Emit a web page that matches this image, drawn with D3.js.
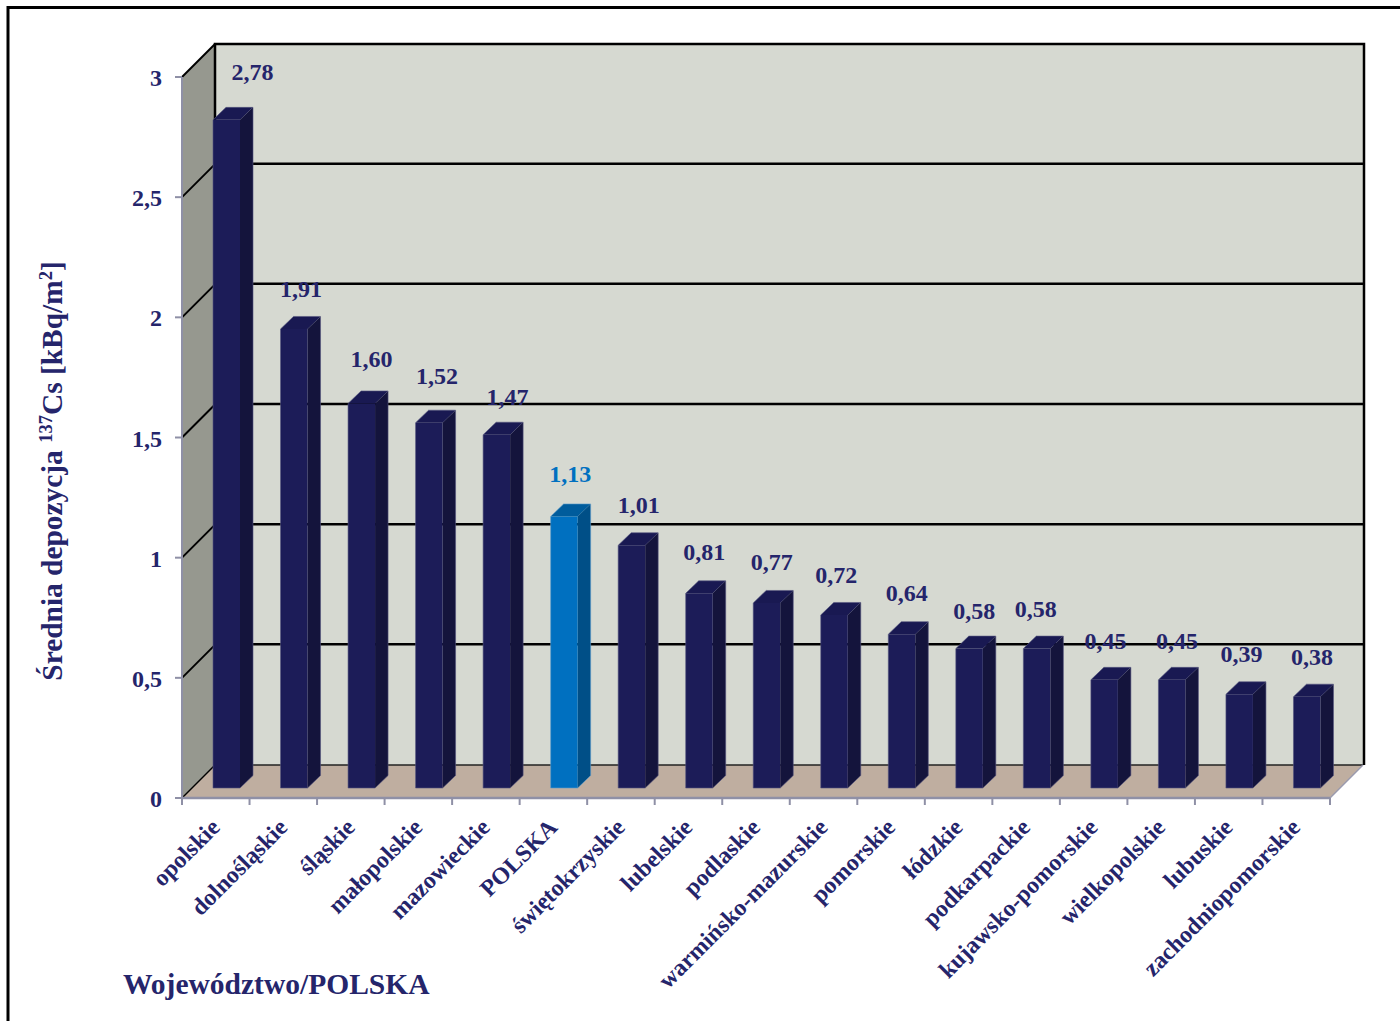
<!DOCTYPE html>
<html><head><meta charset="utf-8">
<script src="https://cdn.jsdelivr.net/npm/d3@7"></script>
<style>html,body{margin:0;padding:0;background:#fff}svg{display:block}text{font-family:"Liberation Serif",serif;font-weight:bold}</style>
</head><body><svg id="c" width="1400" height="1021"></svg>
<script>
const categories=["opolskie","dolnośląskie","śląskie","małopolskie","mazowieckie","POLSKA","świętokrzyskie","lubelskie","podlaskie","warmińsko-mazurskie","pomorskie","łódzkie","podkarpackie","kujawsko-pomorskie","wielkopolskie","lubuskie","zachodniopomorskie"];
const values=[2.78,1.91,1.60,1.52,1.47,1.13,1.01,0.81,0.77,0.72,0.64,0.58,0.58,0.45,0.45,0.39,0.38];
const yTickValues=[0,0.5,1,1.5,2,2.5,3];
const highlight="POLSKA";
// hand-placed label nudges, as in the original
const labelDx=[26,7,10,8,11,6,7,5,5,2,5,5,-1,1,5,2,5];
const labelDy=[-48,-40,-44,-47,-38,-42,-40,-41,-41,-40,-41,-38,-40,-39,-39,-40,-40];

const num=d=>String(d).replace(".",",");
const fix2=d=>d.toFixed(2).replace(".",",");
const svg=d3.select("#c");
const x0=182,x1=1330,y0=798,y3=77,dep=33;
const x=d3.scaleBand().domain(categories).range([x0,x1]);
const y=d3.scaleLinear().domain([0,3]).range([y0,y3]);
const navy="#25256b";
const poly=(pts,fill,stroke,sw)=>svg.append("polygon").attr("points",pts.map(p=>p.join(",")).join(" ")).attr("fill",fill).attr("stroke",stroke||"none").attr("stroke-width",sw||0);

// frame: open on the right, as cropped in the original
svg.append("path").attr("d","M8,1021V7.5H1400").attr("fill","none").attr("stroke","#000").attr("stroke-width",3);

// walls
poly([[x0+dep,y3-dep],[1363,y3-dep],[1363,y0-dep],[x0+dep,y0-dep]],"#d6d9d1");
poly([[x0,y3],[x0+dep,y3-dep],[x0+dep,y0-dep],[x0,y0]],"#96988f");
poly([[x0,y0],[x0+dep,y0-dep],[1363,y0-dep],[x1,y0]],"#bfaea0");

// grid
yTickValues.forEach(v=>{
  const yy=y(v);
  if(v<3&&v>0) svg.append("line").attr("x1",x0+dep).attr("x2",1363).attr("y1",yy-dep-.5).attr("y2",yy-dep-.5).attr("stroke","#000").attr("stroke-width",2.5);
  svg.append("line").attr("x1",x0).attr("x2",x0+dep).attr("y1",yy).attr("y2",yy-dep).attr("stroke","#000").attr("stroke-width",v===0?1.5:2);
});
svg.append("path").attr("d",`M${x0+dep},${y0-dep}V${y3-dep}H1364V${y0-dep}`).attr("fill","none").attr("stroke","#000").attr("stroke-width",2.5);
svg.append("line").attr("x1",x0+dep).attr("x2",1363).attr("y1",y0-dep).attr("y2",y0-dep).attr("stroke","#222").attr("stroke-width",1.5);
svg.append("line").attr("x1",x1).attr("x2",1363).attr("y1",y0).attr("y2",y0-dep).attr("stroke","#9a9aae").attr("stroke-width",1.5);

// axes
const axisCol="#8f90a6";
svg.append("line").attr("x1",x0).attr("x2",x0).attr("y1",y3).attr("y2",y0).attr("stroke",axisCol).attr("stroke-width",2);
svg.append("line").attr("x1",x0).attr("x2",x1).attr("y1",y0).attr("y2",y0).attr("stroke",axisCol).attr("stroke-width",2.5);
yTickValues.forEach(v=>{
  svg.append("line").attr("x1",x0-7).attr("x2",x0).attr("y1",y(v)).attr("y2",y(v)).attr("stroke",axisCol).attr("stroke-width",2);
  svg.append("text").attr("x",162).attr("y",y(v)+9).attr("text-anchor","end").attr("font-size",24).attr("fill",navy).text(num(v));
});
[...categories.map(c=>x(c)),x1].forEach(px=>svg.append("line").attr("x1",px).attr("x2",px).attr("y1",y0).attr("y2",y0+7).attr("stroke",axisCol).attr("stroke-width",2));

// bars
const w=27,dx=13,dy=12.5,lift=10;
categories.forEach((c,i)=>{
  const hi=c===highlight;
  const l=x(c)+31,r=l+w,b=y(0)-lift,t=y(values[i])-lift;
  const e=hi?"#5e9ccc":"#55557f";
  poly([[r,t],[r+dx,t-dy],[r+dx,b-dy],[r,b]],hi?"#004f87":"#14143c");
  poly([[l,t],[l+dx,t-dy],[r+dx,t-dy],[r,t]],hi?"#005c9c":"#191952");
  poly([[l,t],[r,t],[r,b],[l,b]],hi?"#0070c0":"#1c1c58");
  svg.append("path").attr("d",`M${l},${b}V${t}L${l+dx},${t-dy}H${r+dx}V${b-dy}L${r},${b}Z`).attr("fill","none").attr("stroke",e).attr("stroke-width",1).attr("stroke-opacity",.6);
  svg.append("text").attr("x",l+w/2+labelDx[i]).attr("y",t+labelDy[i]+8).attr("text-anchor","middle").attr("font-size",24).attr("fill",hi?"#0070c0":navy).text(fix2(values[i]));
});

// category labels
categories.forEach(c=>{
  const px=x(c)+x.bandwidth()/2+1.5, py=y0+27;
  svg.append("text").attr("transform",`translate(${px},${py}) rotate(-45)`).attr("text-anchor","end").attr("dominant-baseline","middle").attr("font-size",23.8).attr("fill",navy).text(c);
});

// titles
const yt=svg.append("text").attr("transform","translate(62,471) rotate(-90)").attr("text-anchor","middle").attr("font-size",29.4).attr("fill",navy);
yt.append("tspan").text("Średnia depozycja ");
yt.append("tspan").attr("font-size",18.5).attr("dy",-10).text("137");
yt.append("tspan").attr("dy",10).text("Cs [kBq/m");
yt.append("tspan").attr("font-size",18.5).attr("dy",-10).text("2");
yt.append("tspan").attr("dy",10).text("]");
svg.append("text").attr("x",123).attr("y",994).attr("font-size",29.5).attr("fill",navy).text("Województwo/POLSKA");
</script></body></html>
